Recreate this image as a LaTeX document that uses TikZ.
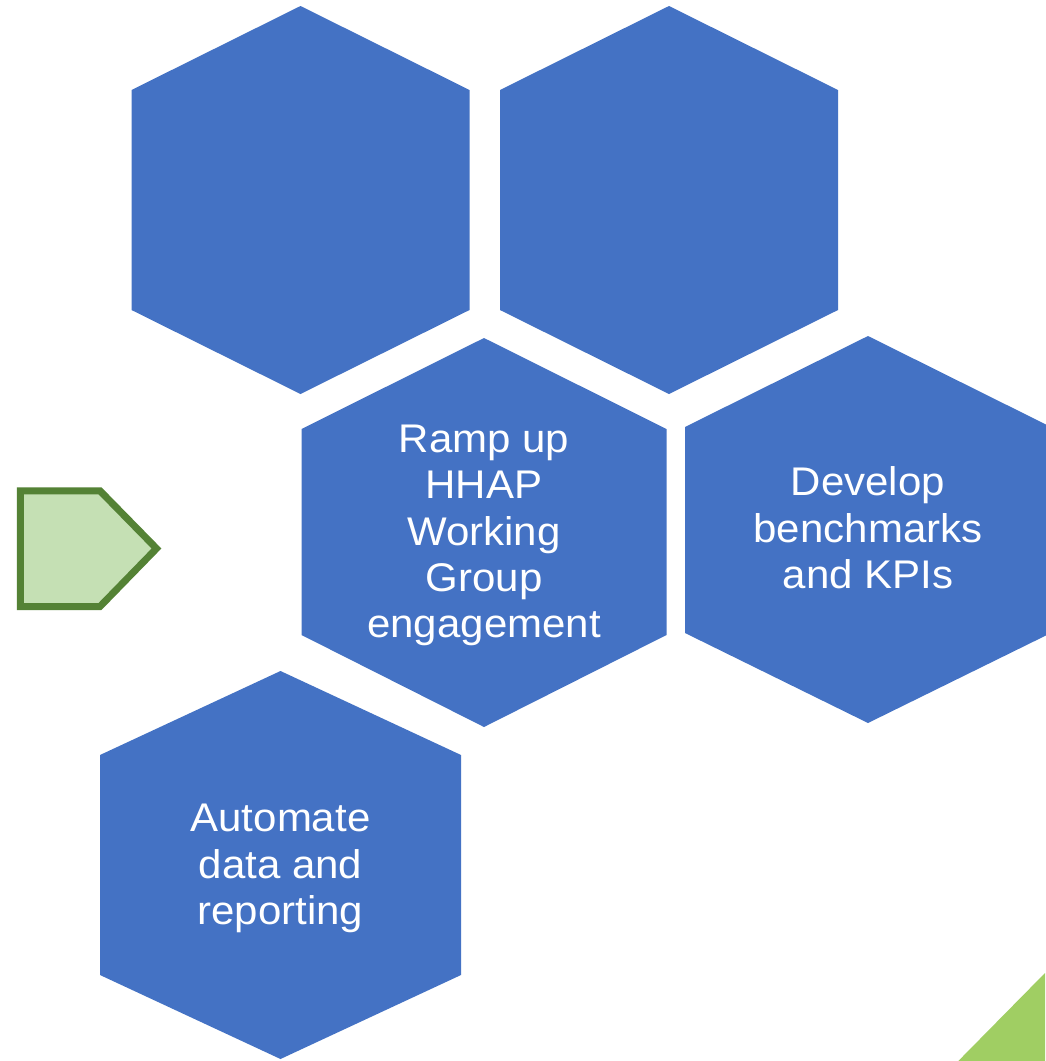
\documentclass[tikz,border=0pt]{standalone}
\usepackage{fontspec}
\newfontfamily\hexfont{Liberation Sans}[FakeStretch=1.05]
\definecolor{hexblue}{HTML}{4472C4}
\definecolor{pentfill}{HTML}{C5E0B4}
\definecolor{pentline}{HTML}{548235}
\definecolor{cornergreen}{HTML}{A0CE63}
% #1 cx, #2 top, #3 upper, #4 lower, #5 bottom, #6 half width
\newcommand\myhex[7]{%
  \coordinate (#7) at (#1,{(#2+#5)/2});
  \fill[hexfill] (#1,#2) -- ({#1+#6},#3) -- ({#1+#6},#4) -- (#1,#5)
    -- ({#1-#6},#4) -- ({#1-#6},#3) -- cycle;}
\begin{document}
\begin{tikzpicture}[x=1pt,y=-1pt,
  hexfill/.style={fill=hexblue},
  hexlabel/.style={text=white, font=\hexfont\fontsize{40}{46.3}\selectfont,
    align=center, inner sep=0pt},
  pentstyle/.style={fill=pentfill, draw=pentline, line width=7pt, miter limit=10}]
\useasboundingbox (0,0) rectangle (1045,1061);
\fill[white] (0,0) rectangle (1045,1061);

\myhex{300.5}{6}{90}{310}{394}{169}{h1}
\myhex{669}{6}{90}{310}{394}{169}{h2}
\myhex{484}{338}{429}{635}{727}{182.5}{h3}
\myhex{868}{336}{427}{633}{723}{183}{h4}
\myhex{280.5}{671}{755}{975}{1059}{180.5}{h5}

\node[hexlabel] (t3) at (484,535.5) {Ramp up\\HHAP\\Working\\Group\\engagement};
\node[hexlabel] (t4) at (868,527.7) {Develop\\benchmarks\\and KPIs};
\node[hexlabel] (t5) at (280.5,868.4) {Automate\\data and\\reporting};

\draw[pentstyle] (20.3,490.8) -- (100,490.8) -- (156.5,548.5) -- (100,606.5) -- (20.3,606.5) -- cycle;

\fill[cornergreen] (958.3,1061) -- (1045,973) -- (1045,1061) -- cycle;
\end{tikzpicture}
\end{document}
